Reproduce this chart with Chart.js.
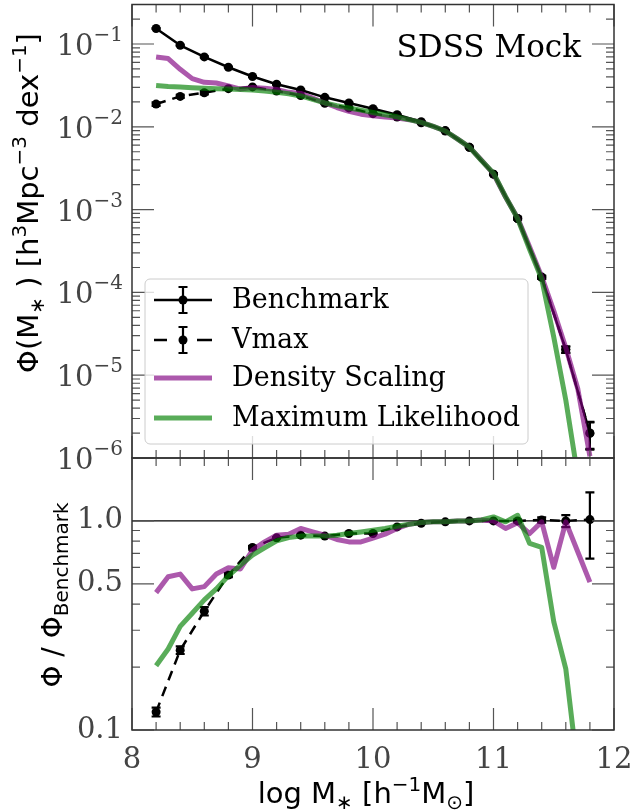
<!DOCTYPE html>
<html>
<head>
<meta charset="utf-8">
<script src="https://cdn.jsdelivr.net/npm/chart.js@4.4.1/dist/chart.umd.min.js"></script>
<style>
  body { margin: 0; background: #fff; }
  #wrap { position: relative; width: 634px; height: 810px; }
  canvas { position: absolute; left: 0; }
  #top { top: 0; }
  #bot { top: 440px; }
</style>
</head>
<body>
<div id="wrap">
  <canvas id="top" width="634" height="480"></canvas>
  <canvas id="bot" width="634" height="370"></canvas>
</div>
<script>
// stellar mass bins (log M*), 0.2 dex for the binned estimators
const massBins = [8.2, 8.4, 8.6, 8.8, 9.0, 9.2, 9.4, 9.6, 9.8, 10.0, 10.2, 10.4, 10.6, 10.8, 11.0, 11.2, 11.4, 11.6, 11.8];
const benchmark = [0.154, 0.0965, 0.0698, 0.0524, 0.0405, 0.0327, 0.0278, 0.0227, 0.0194, 0.0165, 0.0140, 0.0115, 0.0090, 0.00565, 0.00268, 0.00078, 0.000152, 0.0000204, 0.00000198];
const benchmarkErr = [0.002, 0.0013, 0.0009, 0.0006, 0.0005, 0.0004, 0.0003, 0.00025, 0.0002, 0.00018, 0.00015, 0.00012, 0.0001, 0.00007, 0.00004, 0.000018, 0.000006, 0.0000018, 0.00000072];
const vmax = [0.0188, 0.0233, 0.0258, 0.0289, 0.0303, 0.0271, 0.0238, 0.0192, 0.0169, 0.0144, 0.0131, 0.0112, 0.0089, 0.00565, 0.00268, 0.00078, 0.000153, 0.0000204, 0.00000201];
const vmaxErr = [0.0009, 0.001, 0.0011, 0.0007, 0.0004, 0.0003, 0.0003, 0.0002, 0.0002, 0.00015, 0.00013, 0.0001, 0.0001, 0.00007, 0.00004, 0.000018, 0.000006, 0.0000018, 0.00000072];

// 0.1 dex grid for the two continuous estimators
const fineBins = [8.2, 8.3, 8.4, 8.5, 8.6, 8.7, 8.8, 8.9, 9.0, 9.1, 9.2, 9.3, 9.4, 9.5, 9.6, 9.7, 9.8, 9.9, 10.0, 10.1, 10.2, 10.3, 10.4, 10.5, 10.6, 10.7, 10.8, 10.9, 11.0, 11.1, 11.2, 11.3, 11.4, 11.5, 11.6, 11.7, 11.8];
const densityScaling = [0.0697, 0.0667, 0.0495, 0.0382, 0.0345, 0.0338, 0.0312, 0.0285, 0.0298, 0.0293, 0.0283, 0.0261, 0.0253, 0.0222, 0.0194, 0.0171, 0.0154, 0.0142, 0.0136, 0.0131, 0.0128, 0.0122, 0.0113, 0.0101, 0.0089, 0.00715, 0.00568, 0.00395, 0.00270, 0.00142, 0.00079, 0.000355, 0.000155, 0.000060, 0.0000215, 0.0000068, 0.00000105];
const maxLikelihood = [0.0316, 0.0306, 0.0302, 0.0297, 0.0293, 0.0289, 0.0286, 0.0283, 0.0278, 0.0270, 0.0262, 0.0251, 0.0236, 0.0214, 0.0194, 0.0180, 0.0169, 0.0159, 0.0149, 0.0140, 0.0132, 0.0122, 0.0113, 0.0101, 0.0089, 0.00715, 0.00568, 0.00392, 0.00275, 0.00143, 0.00078, 0.00033, 0.000145, 0.000029, 0.0000050, 0.0000006];

// ratios to the benchmark
const vmaxRatio = [0.122, 0.241, 0.37, 0.551, 0.747, 0.83, 0.855, 0.846, 0.871, 0.871, 0.936, 0.975, 0.99, 1.0, 1.0, 1.0, 1.01, 1.0, 1.015];
const vmaxRatioErr = [0.006, 0.01, 0.017, 0.012, 0.01, 0.006, 0.005, 0.005, 0.005, 0.005, 0.006, 0.006, 0.006, 0.008, 0.01, 0.015, 0.03, 0.065, 0.355];
const densityRatio = [0.454, 0.541, 0.557, 0.473, 0.485, 0.557, 0.597, 0.589, 0.725, 0.794, 0.855, 0.864, 0.92, 0.886, 0.855, 0.815, 0.794, 0.794, 0.827, 0.864, 0.92, 0.964, 0.982, 0.99, 0.99, 1.0, 1.0, 1.01, 1.0, 0.92, 0.98, 0.87, 0.99, 0.60, 0.99, 0.71, 0.51];
const likelihoodRatio = [0.203, 0.244, 0.313, 0.362, 0.419, 0.473, 0.546, 0.615, 0.687, 0.743, 0.803, 0.833, 0.846, 0.846, 0.846, 0.855, 0.871, 0.886, 0.903, 0.92, 0.943, 0.964, 0.982, 0.99, 0.99, 1.0, 1.0, 1.01, 1.045, 0.99, 1.064, 0.78, 0.747, 0.33, 0.196, 0.064];

// axes
const xLimits = [8, 12];
const xMajor = [8, 9, 10, 11, 12];
const phiLimits = [1e-6, 0.3];
const phiDecades = [1e-6, 1e-5, 1e-4, 1e-3, 1e-2, 1e-1];
const ratioLimits = [0.1, 2.0];
const ratioMajor = [0.1, 0.5, 1.0];
const ratioMinor = [0.2, 0.3, 0.4, 0.6, 0.7, 0.8, 0.9];

const PURPLE = 'rgba(128, 0, 128, 0.65)';
const GREEN = 'rgba(0, 128, 0, 0.65)';
const SERIF = '"DejaVu Serif", serif';
const SANS = '"DejaVu Sans", sans-serif';

const pts = (xs, ys) => ys.map((y, i) => ({ x: xs[i], y }));

let xMinor = [];
for (let v = 8.2; v < 12; v += 0.2) {
  if (Math.abs(v - Math.round(v)) > 0.01) xMinor.push(v);
}
let phiMinor = [];
phiDecades.forEach((d) => {
  for (let k = 2; k <= 9; k++) if (d * k <= phiLimits[1]) phiMinor.push(d * k);
});

// error bars for any dataset carrying an `errors` array
const errorBars = {
  id: 'errorBars',
  afterDatasetDraw(chart, args) {
    const ds = chart.data.datasets[args.index];
    if (!ds.errors) return;
    const { ctx, chartArea: a, scales: { x, y } } = chart;
    ctx.save();
    ctx.beginPath();
    ctx.rect(a.left, a.top, a.right - a.left, a.bottom - a.top);
    ctx.clip();
    ctx.strokeStyle = '#000';
    ctx.lineWidth = 2.2;
    ctx.setLineDash([]);
    ds.data.forEach((p, i) => {
      const e = ds.errors[i];
      const px = x.getPixelForValue(p.x);
      const lo = y.getPixelForValue(Math.max(p.y - e, y.min * 0.5));
      const hi = y.getPixelForValue(p.y + e);
      ctx.beginPath();
      ctx.moveTo(px, lo); ctx.lineTo(px, hi);
      ctx.moveTo(px - 4.5, lo); ctx.lineTo(px + 4.5, lo);
      ctx.moveTo(px - 4.5, hi); ctx.lineTo(px + 4.5, hi);
      ctx.stroke();
    });
    ctx.restore();
  }
};

// box around the plot with inward ticks on every side
const frameTicks = {
  id: 'frameTicks',
  afterDraw(chart, args, opts) {
    const { ctx, chartArea: a, scales: { x, y } } = chart;
    ctx.save();
    ctx.strokeStyle = '#555';
    ctx.lineWidth = 1.2;
    const xt = (vals, len) => vals.forEach((v) => {
      const px = x.getPixelForValue(v);
      ctx.beginPath();
      ctx.moveTo(px, a.bottom); ctx.lineTo(px, a.bottom - len);
      ctx.moveTo(px, a.top); ctx.lineTo(px, a.top + len);
      ctx.stroke();
    });
    const yt = (vals, len) => vals.forEach((v) => {
      const py = y.getPixelForValue(v);
      ctx.beginPath();
      ctx.moveTo(a.left, py); ctx.lineTo(a.left + len, py);
      ctx.moveTo(a.right, py); ctx.lineTo(a.right - len, py);
      ctx.stroke();
    });
    xt(xMajor, 22); xt(xMinor, 8);
    yt(opts.yMajor, 22); yt(opts.yMinor, 8);
    ctx.strokeStyle = '#333';
    ctx.lineWidth = 1.5;
    ctx.strokeRect(a.left, a.top, a.right - a.left, a.bottom - a.top);
    ctx.restore();
  }
};

// text with sub/superscript pieces: [text, size, dy]
function richText(ctx, parts, x, y, family, align) {
  let w = 0;
  parts.forEach((p) => { ctx.font = p[1] + 'px ' + family; w += ctx.measureText(p[0]).width; });
  let cx = align === 'center' ? x - w / 2 : align === 'right' ? x - w : x;
  ctx.textAlign = 'left';
  ctx.textBaseline = 'alphabetic';
  parts.forEach((p) => {
    ctx.font = p[1] + 'px ' + family;
    ctx.fillText(p[0], cx, y + (p[2] || 0));
    cx += ctx.measureText(p[0]).width;
  });
}

const topDecor = {
  id: 'topDecor',
  afterDraw(chart) {
    const { ctx, chartArea: a, scales: { y } } = chart;
    ctx.save();
    // decade labels 10^n
    ctx.fillStyle = '#444';
    phiDecades.forEach((d) => {
      const n = Math.round(Math.log10(d));
      richText(ctx, [['10', 29, 0], ['\u2212' + Math.abs(n), 20, -14]], a.left - 9, y.getPixelForValue(d) + 11, SERIF, 'right');
    });
    // y title
    ctx.fillStyle = '#000';
    ctx.translate(38, 203);
    ctx.rotate(-Math.PI / 2);
    richText(ctx, [['\u03a6(M', 29, 0], ['\u2217', 20, 6], [' ) [h', 29, 0], ['3', 20, -12], ['Mpc', 29, 0],
      ['\u22123', 20, -12], [' dex', 29, 0], ['\u22121', 20, -12], [']', 29, 0]], 0, 0, SANS, 'center');
    ctx.restore();

    ctx.save();
    ctx.fillStyle = '#000';
    ctx.font = '31px ' + SERIF;
    ctx.textAlign = 'right';
    ctx.fillText('SDSS Mock', 581, 57);

    // legend
    const lx = 145, ly = 279, lw = 383, lh = 165;
    ctx.fillStyle = 'rgba(255,255,255,0.8)';
    ctx.strokeStyle = '#ccc';
    ctx.lineWidth = 1;
    ctx.beginPath();
    ctx.roundRect(lx, ly, lw, lh, 5);
    ctx.fill();
    ctx.stroke();
    const rows = [300, 340, 378, 418];
    chart.data.datasets.slice().sort((p, q) => q.order - p.order).forEach((ds, i) => {
      const ry = rows[i];
      ctx.strokeStyle = ds.borderColor;
      ctx.lineWidth = ds.borderWidth;
      ctx.setLineDash([]);
      ctx.beginPath();
      if (ds.borderDash && ds.borderDash.length) {
        ctx.moveTo(154, ry); ctx.lineTo(167, ry);
        ctx.moveTo(197, ry); ctx.lineTo(212, ry);
      } else {
        ctx.moveTo(154, ry); ctx.lineTo(212, ry);
      }
      ctx.stroke();
      if (ds.errors) {
        ctx.lineWidth = 2.2;
        ctx.beginPath();
        ctx.moveTo(183, ry - 13); ctx.lineTo(183, ry + 13);
        ctx.moveTo(178.5, ry - 13); ctx.lineTo(187.5, ry - 13);
        ctx.moveTo(178.5, ry + 13); ctx.lineTo(187.5, ry + 13);
        ctx.stroke();
        ctx.fillStyle = '#000';
        ctx.beginPath();
        ctx.arc(183, ry, 4.5, 0, Math.PI * 2);
        ctx.fill();
      }
      ctx.fillStyle = '#000';
      ctx.font = '27px ' + SERIF;
      ctx.textAlign = 'left';
      ctx.textBaseline = 'middle';
      ctx.fillText(ds.label, 232, ry + 1);
    });
    ctx.restore();
  }
};

const botDecor = {
  id: 'botDecor',
  afterDraw(chart) {
    const { ctx } = chart;
    ctx.save();
    ctx.fillStyle = '#000';
    richText(ctx, [['log M', 29, 0], ['\u2217', 20, 6], [' [h', 29, 0], ['\u22121', 20, -12], ['M', 29, 0],
      ['\u2299', 20, 6], [']', 29, 0]], 366, 363, SANS, 'center');
    ctx.translate(62, 155);
    ctx.rotate(-Math.PI / 2);
    richText(ctx, [['\u03a6 / \u03a6', 28, 0], ['Benchmark', 20, 6]], 0, 0, SANS, 'center');
    ctx.restore();
  }
};

const lineStyle = (label, color, width, order) => ({
  label, borderColor: color, backgroundColor: color, borderWidth: width, order,
  pointRadius: 0, tension: 0, borderJoinStyle: 'round', borderCapStyle: 'butt'
});
const markerStyle = { pointRadius: 4.5, pointBackgroundColor: '#000', pointBorderWidth: 0, pointHoverRadius: 4.5 };

const fixY = (s) => { s.width = 132; s.paddingTop = 0; s.paddingBottom = 0; };

new Chart(document.getElementById('top'), {
  type: 'line',
  data: {
    datasets: [
      { ...lineStyle('Benchmark', '#000', 2.5, 3), ...markerStyle, data: pts(massBins, benchmark), errors: benchmarkErr },
      { ...lineStyle('Vmax', '#000', 2.5, 2), ...markerStyle, borderDash: [10, 7], data: pts(massBins, vmax), errors: vmaxErr },
      { ...lineStyle('Density Scaling', PURPLE, 5, 1), data: pts(fineBins, densityScaling) },
      { ...lineStyle('Maximum Likelihood', GREEN, 5, 0), data: pts(fineBins, maxLikelihood) }
    ]
  },
  options: {
    responsive: false,
    animation: false,
    layout: { padding: { left: 0, right: 20, top: 3, bottom: 22 } },
    plugins: { legend: { display: false }, tooltip: { enabled: false }, frameTicks: { yMajor: phiDecades, yMinor: phiMinor } },
    scales: {
      x: { type: 'linear', min: xLimits[0], max: xLimits[1], display: false },
      y: {
        type: 'logarithmic', min: phiLimits[0], max: phiLimits[1],
        grid: { display: false, drawTicks: false }, border: { display: false },
        ticks: { display: false },
        afterFit: fixY
      }
    }
  },
  plugins: [errorBars, frameTicks, topDecor]
});

new Chart(document.getElementById('bot'), {
  type: 'line',
  data: {
    datasets: [
      { ...lineStyle('Benchmark', '#000', 1.3, 4), data: pts(xLimits, [1, 1]) },
      { ...lineStyle('Vmax', '#000', 2.5, 2), ...markerStyle, borderDash: [10, 7], data: pts(massBins, vmaxRatio), errors: vmaxRatioErr },
      { ...lineStyle('Density Scaling', PURPLE, 5, 1), data: pts(fineBins, densityRatio) },
      { ...lineStyle('Maximum Likelihood', GREEN, 5, 0), data: pts(fineBins, likelihoodRatio) }
    ]
  },
  options: {
    responsive: false,
    animation: false,
    layout: { padding: { left: 0, right: 20, top: 18, bottom: 0 } },
    plugins: { legend: { display: false }, tooltip: { enabled: false }, frameTicks: { yMajor: ratioMajor, yMinor: ratioMinor } },
    scales: {
      x: {
        type: 'linear', min: xLimits[0], max: xLimits[1],
        grid: { display: false, drawTicks: false }, border: { display: false },
        afterBuildTicks: (s) => { s.ticks = xMajor.map((v) => ({ value: v })); },
        ticks: { color: '#444', font: { family: SERIF, size: 29 }, padding: 13, maxRotation: 0, callback: (v) => String(v) },
        afterFit: (s) => { s.height = 80; s.paddingLeft = 0; s.paddingRight = 0; }
      },
      y: {
        type: 'logarithmic', min: ratioLimits[0], max: ratioLimits[1],
        grid: { display: false, drawTicks: false }, border: { display: false },
        afterBuildTicks: (s) => { s.ticks = ratioMajor.map((v) => ({ value: v })); },
        ticks: { color: '#444', font: { family: SERIF, size: 29 }, padding: 9, callback: (v) => Number(v).toFixed(1) },
        afterFit: fixY
      }
    }
  },
  plugins: [errorBars, frameTicks, botDecor]
});
</script>
</body>
</html>
